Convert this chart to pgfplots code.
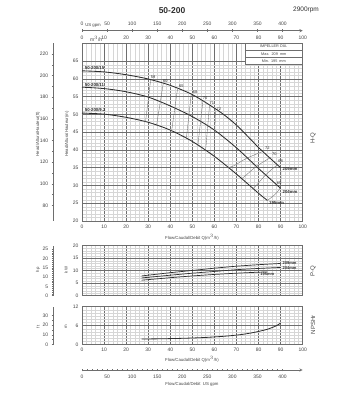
\documentclass[border=0pt]{standalone}
\usepackage{pgfplots}
\pgfplotsset{compat=1.18}
\usepackage{fontspec}
\setmainfont{Liberation Sans}
\definecolor{cv}{HTML}{2E2E2E}
\definecolor{gmaj}{HTML}{6E6E6E}
\definecolor{gmin}{HTML}{D6D6D6}
\definecolor{tx}{HTML}{444444}
\newcommand{\tk}{\fontsize{5}{6}\selectfont}
\newcommand{\lb}{\fontsize{4.3}{5}\selectfont}
\pgfplotsset{
 base/.style={scale only axis, width=220.7pt, xmin=0, xmax=100,
   /pgf/number format/assume math mode=true,
   tick label style={font=\tk, text=tx},
   grid=both, major grid style={gmaj, line width=0.55pt},
   minor grid style={gmin, line width=0.25pt},
   axis line style={gmaj, line width=0.6pt},
   xtick={0,10,...,100}, minor x tick num=4,
   major tick length=0pt, minor tick length=0pt,
   clip=false},
 side/.style={scale only axis, width=0.01pt, xmin=0, xmax=1,
   /pgf/number format/assume math mode=true,
   tick label style={font=\tk, text=tx},
   axis y line=left, axis x line=none, axis line style={-, gmaj, line width=0.5pt},
   tick align=center, major tick length=2.5pt, minor tick length=1.5pt,
   tick style={gmaj, line width=0.4pt}},
 flow/.style={scale only axis, width=220.7pt, height=0.01pt, xmin=0, xmax=440.29, ymin=0, ymax=1,
   /pgf/number format/assume math mode=true,
   tick label style={font=\tk, text=tx},
   axis y line=none, axis line style={-, gmaj, line width=0.5pt},
   xtick={0,50,...,400}, minor x tick num=4,
   tick align=center, major tick length=2.5pt, minor tick length=1.2pt,
   tick style={gmaj, line width=0.4pt}},
 hq/.style={cv, line width=0.85pt, smooth},
 eff/.style={gmaj, line width=0.35pt, smooth},
}
\begin{document}
\begin{tikzpicture}[x=1pt,y=1pt]
\path[use as bounding box] (0,0) rectangle (356,411);
% ---------- H-Q ----------
\begin{axis}[base, at={(82pt,190pt)}, height=177.5pt, ymin=20, ymax=70,
  ytick={20,25,...,65}, minor y tick num=4]
\fill[white] (axis cs:73.8,64.2) rectangle (axis cs:100,70);
\draw[gmaj, line width=0.5pt] (axis cs:73.8,64.2) rectangle (axis cs:100,70);
\draw[gmaj, line width=0.4pt] (axis cs:73.8,68.0) -- (axis cs:100,68.0);
\draw[gmaj, line width=0.4pt] (axis cs:73.8,66.06) -- (axis cs:100,66.06);
\node[font=\fontsize{3.8}{4}\selectfont, text=tx] at (axis cs:86.9,69.1) {IMPELLER DIA.};
\node[font=\fontsize{3.8}{4}\selectfont, text=tx] at (axis cs:86.9,67.0) {Max.\ \ 209\ \ mm};
\node[font=\fontsize{3.8}{4}\selectfont, text=tx] at (axis cs:86.9,65.1) {Min.\ \ 195\ \ mm};
% curves
\addplot[hq] coordinates {(0,62.3)(10,62.0)(20,61.2)(30,60.0)(40,58.2)(50,55.6)(60,51.8)(65,49.6)(70,47.0)(75,43.9)(80,40.7)(85,37.8)(90,35.0)};
\addplot[hq] coordinates {(0,57.7)(10,57.3)(20,56.4)(30,54.9)(40,52.4)(50,49.4)(60,45.6)(70,40.6)(80,34.8)(90,29.2)};
\addplot[hq] coordinates {(0,50.4)(10,50.1)(20,49.2)(30,47.8)(40,45.6)(50,42.4)(60,38.2)(70,33.2)(80,27.8)(84,25.8)};
% iso-efficiency lines (left)
\addplot[eff] coordinates {(31.1,59.7)(28.8,48.0)};
\addplot[eff] coordinates {(36.8,58.7)(33.8,47.0)};
\addplot[eff] coordinates {(43.3,57.3)(40.6,45.3)};
\addplot[eff] coordinates {(49.5,55.7)(47.3,43.3)};
\addplot[eff] coordinates {(54.8,53.9)(52.5,41.3)};
\addplot[eff] coordinates {(57.8,52.7)(56.0,39.9)};
\addplot[eff] coordinates {(60.5,51.5)(59.8,38.0)};
% iso-efficiency arcs (right)
\addplot[eff] coordinates {(82.5,39.7)(78,38.6)(73.5,37.3)(69,35.6)(66,35.0)};
\addplot[eff] coordinates {(85.5,37.9)(81.5,36.4)(78,34.9)(74.5,33.0)(72.5,32.0)};
\addplot[eff] coordinates {(88.5,35.8)(85.5,34.3)(82.5,32.5)(79.5,30.4)(77.5,29.1)};
\addplot[eff] coordinates {(90,35.0)(90.2,32.3)(89.8,29.4)(87.3,27.4)(84,25.8)};
% labels
\begin{scope}[every node/.style={font=\fontsize{4}{4.5}\selectfont, text=cv, inner sep=0.5pt}]
\node[anchor=south] at (axis cs:32.2,59.9) {59};
\node[anchor=south] at (axis cs:37.8,58.7) {60};
\node[anchor=south] at (axis cs:45.0,57.3) {65};
\node[anchor=south] at (axis cs:51.2,55.6) {68};
\node[anchor=south] at (axis cs:55.8,53.9) {70};
\node[anchor=south] at (axis cs:58.8,52.5) {71};
\node[anchor=south] at (axis cs:62.0,51.0) {72};
\node at (axis cs:84.0,40.6) {72};
\node at (axis cs:87.2,38.8) {70};
\node at (axis cs:90.0,37.0) {68};
\node at (axis cs:89.3,30.6) {65};
\end{scope}
\begin{scope}[every node/.style={font=\bfseries\fontsize{4.3}{5}\selectfont, text=cv, inner sep=0.5pt}]
\node[anchor=south west] at (axis cs:1,62.4) {50-200/15};
\node[anchor=south west] at (axis cs:1,57.8) {50-200/11};
\node[anchor=south west] at (axis cs:1,50.5) {50-200/9.2};
\node[anchor=west] at (axis cs:90.6,34.7) {209mm};
\node[anchor=west] at (axis cs:90.6,28.3) {204mm};
\node[anchor=west] at (axis cs:84.5,25.0) {195mm};
\end{scope}
\end{axis}
% top m3/h labels
\begin{axis}[base, grid=none, at={(82pt,190pt)}, height=177.5pt, ymin=0, ymax=1,
  axis x line*=top, axis y line=none, axis line style={-, gmaj, line width=0.6pt}]
\end{axis}
\node[font=\tk, text=tx, anchor=west] at (86.5,372.5) {m$^3$/h};
% top US gpm axis
\begin{axis}[flow, at={(82pt,380.3pt)}, axis x line=top]
\end{axis}
\node[font=\fontsize{4.3}{5}\selectfont, text=tx, anchor=west, inner sep=0.5pt] at (84.6,385.3) {US gpm};
% ft axis (head)
\begin{axis}[side, at={(53pt,190pt)}, height=177.5pt, ymin=65.617, ymax=229.66,
  ytick={80,100,...,220}, minor y tick num=1]
\end{axis}
% ---------- P-Q ----------
\begin{axis}[base, at={(82pt,115.3pt)}, height=50pt, ymin=0, ymax=20,
  ytick={0,5,...,20}, minor y tick num=4, xticklabels={}]
\addplot[cv, line width=0.7pt, smooth] coordinates {(27,7.9)(40,9.2)(50,10.1)(60,11.0)(70,11.8)(80,12.4)(90,12.9)};
\addplot[cv, line width=0.7pt, smooth] coordinates {(27,7.1)(40,8.2)(50,9.0)(60,9.7)(70,10.4)(80,10.9)(90,11.3)};
\addplot[cv, line width=0.7pt, smooth] coordinates {(27,6.2)(40,7.2)(50,7.9)(60,8.5)(70,9.0)(80,9.4)(84,9.5)};
\begin{scope}[every node/.style={font=\bfseries\fontsize{4}{4.5}\selectfont, text=cv, inner sep=0.5pt}]
\node[anchor=west] at (axis cs:90.6,13.0) {209mm};
\node[anchor=west] at (axis cs:90.6,11.1) {204mm};
\node[anchor=west] at (axis cs:80.5,8.7) {195mm};
\end{scope}
\end{axis}
\begin{axis}[side, at={(53pt,115.3pt)}, height=50pt, ymin=0, ymax=26.82,
  ytick={0,5,...,25}, minor y tick num=4]
\end{axis}
% ---------- NPSH ----------
\begin{axis}[base, at={(82pt,66.7pt)}, height=37.6pt, ymin=0, ymax=12,
  ytick={0,6,12}, minor y tick num=5]
\addplot[cv, line width=0.8pt, smooth] coordinates {(27,1.7)(35,1.75)(45,1.9)(55,2.15)(65,2.6)(72,3.1)(78,3.8)(84,4.8)(88,5.9)(90,6.8)};
\end{axis}
\begin{axis}[side, at={(53pt,66.7pt)}, height=37.6pt, ymin=0, ymax=39.37,
  ytick={0,10,20,30}, minor y tick num=1]
\end{axis}
% bottom US gpm axis
\begin{axis}[flow, at={(82pt,41pt)}, axis x line=bottom]
\end{axis}
% ---------- texts ----------
\node[font=\bfseries\fontsize{8.5}{10}\selectfont, text=cv] at (172,400) {50-200};
\node[font=\fontsize{6.5}{8}\selectfont, text=cv] at (306,401) {2900rpm};
\begin{scope}[every node/.style={font=\lb, text=tx}]
\node[rotate=90] at (38,277) {Head/Altura/Hauteur(ft)};
\node[rotate=90] at (67,277) {Head/Altura/Hauteur(m)};
\node[rotate=90] at (38,141) {hp};
\node[rotate=90] at (66,141) {kW};
\node[rotate=90] at (38,84) {ft};
\node[rotate=90] at (66,84) {m};
\node at (192,174) {Flow/Caudal/Debit Q(m$^3$/h)};
\node at (192,52) {Flow/Caudal/Debit Q(m$^3$/h)};
\node at (192,27) {Flow/Caudal/Debit\ \ US gpm};
\end{scope}
\begin{scope}[every node/.style={font=\fontsize{6}{7}\selectfont, text=tx, rotate=90}]
\node at (313,273) {H-Q};
\node at (313,140) {P-Q};
\node at (313,86) {NPSHr};
\end{scope}
\end{tikzpicture}
\end{document}
